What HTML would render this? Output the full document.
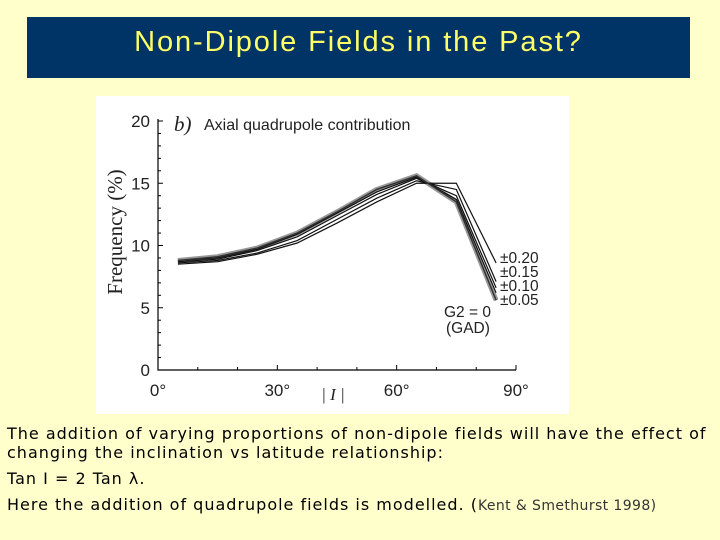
<!DOCTYPE html>
<html><head><meta charset="utf-8"><style>
body{margin:0;width:720px;height:540px;background:#ffffcc;position:relative;overflow:hidden;font-family:"DejaVu Sans","Liberation Sans",sans-serif}
#title{position:absolute;left:27px;top:17px;width:663px;height:61px;background:#003366;color:#ffff66;font-family:"Liberation Sans",sans-serif;font-size:29px;letter-spacing:1.9px;text-align:center;line-height:50px}
#chart{position:absolute;left:96px;top:96px;width:473px;height:318px;background:#fff}
.t{position:absolute;left:7px;font-size:16px;letter-spacing:1.0px;color:#000;line-height:19px;white-space:nowrap}
</style></head><body>
<div id="title">Non-Dipole Fields in the Past?</div>
<svg id="chart" width="473" height="318" viewBox="96 96 473 318" font-family="Liberation Sans, sans-serif"></svg>
<div class="t" style="top:424px">The addition of varying proportions of non-dipole fields will have the effect of<br>changing the inclination vs latitude relationship:</div>
<div class="t" style="top:469px">Tan I = 2 Tan λ.</div>
<div class="t" style="top:495px">Here the addition of quadrupole fields is modelled. (<span style="font-size:14px;letter-spacing:0.4px;color:#333">Kent &amp; Smethurst 1998)</span></div>
<script>
const xCats=[5,15,25,35,45,55,65,75,85];
const gad=[8.8,9.1,9.8,11.0,12.7,14.5,15.6,13.5,5.6];
const g05=[8.8,9.0,9.7,10.9,12.6,14.3,15.5,13.7,6.2];
const g10=[8.7,8.9,9.6,10.7,12.4,14.1,15.4,14.0,6.6];
const g15=[8.6,8.8,9.4,10.4,12.1,13.8,15.2,14.5,7.1];
const g20=[8.5,8.7,9.3,10.2,11.8,13.5,15.0,15.0,8.6];
const yTicks=[0,5,10,15,20];
const xTicks=[0,30,60,90];
const seriesLabels=["±0.20","±0.15","±0.10","±0.05"];
const NS="http://www.w3.org/2000/svg";
const svg=document.getElementById('chart');
const X=v=>158+v*(516-158)/90, Y=v=>370-v*(370-121)/20;
function mk(t,a,txt){const e=document.createElementNS(NS,t);for(const k in a)e.setAttribute(k,a[k]);if(txt!=null)e.textContent=txt;svg.appendChild(e);return e;}
let e=mk('path',{d:`M${X(0)} ${Y(20)-2}V${Y(0)}H${X(90)}`,fill:'none',stroke:'#000','stroke-width':1.2});

for(let v=0;v<=20;v++){e=mk('line',{x1:X(0),x2:X(0)+(v%5?3:5),y1:Y(v),y2:Y(v),stroke:'#000'});
}
for(let v=0;v<=90;v+=10){e=mk('line',{x1:X(v),x2:X(v),y1:Y(0),y2:Y(0)-(v%30?3:5),stroke:'#000'});
}
yTicks.forEach(v=>{e=mk('text',{x:X(0)-8,y:Y(v)+6,'text-anchor':'end','font-size':17,fill:'#222'},v);
});
xTicks.forEach(v=>{e=mk('text',{x:X(v),y:Y(0)+26,'text-anchor':'middle','font-size':17,fill:'#222'},v+'°');
});
e=mk('text',{x:0,y:0,transform:`translate(122,232) rotate(-90)`,'text-anchor':'middle','font-size':21,'font-family':'Liberation Serif, serif',fill:'#222'},'Frequency (%)');

e=mk('text',{x:333,y:400,'text-anchor':'middle','font-size':17,'font-family':'Liberation Serif, serif','font-style':'italic',fill:'#222'},'| I |');

e=mk('text',{x:174,y:131,'font-size':21,'font-family':'Liberation Serif, serif','font-style':'italic',fill:'#222'},'b)');

e=mk('text',{x:204,y:130,'font-size':16,fill:'#222'},'Axial quadrupole contribution');

const pts=a=>a.map((v,i)=>X(xCats[i])+','+Y(v)).join(' ');
e=mk('polyline',{points:pts(gad),fill:'none',stroke:'#999','stroke-width':5});

[[g05,'series-005'],[g10,'series-010'],[g15,'series-015'],[g20,'series-020']].forEach(([a,n])=>{
e=mk('polyline',{points:pts(a),fill:'none',stroke:'#111','stroke-width':1.2});
});
e=mk('polyline',{points:pts(gad),fill:'none',stroke:'#333','stroke-width':1.5});

seriesLabels.forEach((s,i)=>{e=mk('text',{x:500,y:263+i*14,'font-size':15.5,fill:'#222'},s);
});
e=mk('text',{x:444,y:317,'font-size':15.5,fill:'#222'},'G2 = 0');

e=mk('text',{x:446,y:333,'font-size':15.5,fill:'#222'},'(GAD)');

</script>
</body></html>
